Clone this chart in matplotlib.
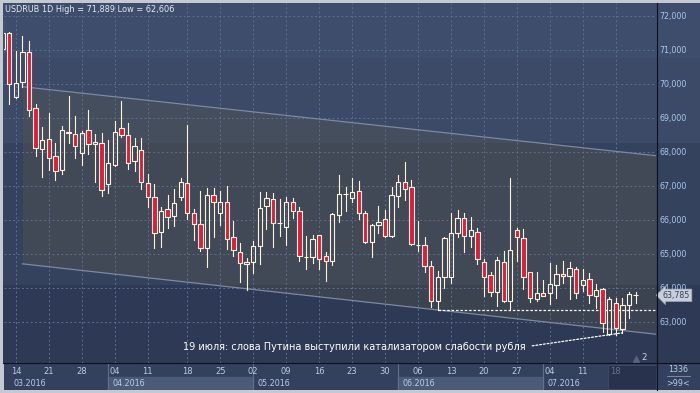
import numpy as np
import matplotlib.pyplot as plt
from matplotlib.patches import Rectangle
from matplotlib.lines import Line2D
import matplotlib.transforms as mtransforms

# USDRUB daily candles, 10.03.2016 - 21.07.2016 (price shown as 72,000 = 72.000)
opens = [71.02, 71.49, 69.63, 70.05, 70.93, 69.28, 68.08, 68.37, 67.87, 67.46,
         68.60, 68.52, 67.96, 68.64, 68.23, 68.26, 67.07, 67.61, 68.70, 68.49,
         67.73, 68.05, 67.08, 66.67, 65.66, 66.32, 66.11, 66.67, 67.08, 66.20,
         65.87, 65.17, 66.73, 66.22, 66.54, 65.49, 65.07, 64.70, 64.75, 65.23,
         66.40, 66.61, 65.92, 65.78, 66.52, 66.25, 64.90, 64.90, 65.55, 64.93,
         64.80, 66.14, 66.75, 66.64, 66.84, 66.20, 65.36, 65.84, 66.02, 65.52,
         66.72, 67.11, 66.96, 65.27, 65.26, 64.64, 63.62, 64.31, 64.31, 65.61,
         66.05, 65.52, 65.64, 64.75, 64.38, 63.87, 64.75, 63.62, 65.71, 65.46,
         64.46, 63.67, 63.84, 63.84, 64.09, 64.41, 64.34, 64.55, 64.09, 64.25,
         63.77, 63.97, 62.65, 63.56, 62.79, 63.50, 63.80]
highs = [71.889, 71.54, 70.97, 71.41, 71.25, 69.40, 68.74, 69.15, 68.26, 68.75,
         69.65, 69.06, 68.62, 69.24, 68.53, 68.56, 68.35, 68.91, 69.50, 68.85,
         68.40, 68.40, 67.34, 67.05, 66.37, 66.74, 66.91, 67.23, 68.79, 66.32,
         66.85, 66.93, 66.93, 66.86, 67.00, 65.97, 65.31, 64.87, 65.38, 66.83,
         66.81, 66.78, 66.62, 66.67, 66.64, 66.37, 65.53, 65.56, 65.56, 65.05,
         66.22, 67.32, 66.96, 67.23, 67.15, 66.26, 65.87, 66.41, 66.29, 66.96,
         67.32, 67.72, 67.17, 65.97, 65.50, 64.79, 64.50, 65.50, 66.20, 66.29,
         66.20, 66.08, 65.75, 64.84, 64.48, 64.91, 65.09, 67.23, 65.75, 65.74,
         64.46, 64.46, 64.24, 64.74, 64.68, 64.79, 64.75, 64.61, 64.56, 64.44,
         64.12, 64.00, 63.74, 63.71, 63.71, 63.88, 63.87]
lows = [70.95, 69.41, 69.60, 69.92, 69.07, 67.89, 67.25, 67.47, 67.19, 67.36,
        68.25, 67.81, 67.61, 67.93, 67.13, 66.72, 66.78, 67.58, 68.45, 67.50,
        67.45, 66.91, 66.39, 65.17, 65.22, 65.75, 65.83, 66.60, 66.03, 65.41,
        65.09, 64.63, 65.51, 65.85, 65.15, 64.95, 64.19, 63.94, 64.43, 64.72,
        65.73, 65.20, 65.54, 65.25, 66.05, 64.80, 64.55, 64.73, 64.57, 64.22,
        64.68, 65.95, 66.25, 66.54, 66.03, 65.31, 64.92, 65.63, 65.49, 65.49,
        66.39, 66.60, 65.25, 65.10, 64.48, 63.45, 63.35, 63.99, 64.14, 65.49,
        65.07, 65.22, 64.70, 63.75, 63.77, 63.48, 63.60, 63.35, 64.79, 63.97,
        63.60, 63.62, 63.75, 63.52, 63.72, 64.14, 63.68, 63.70, 63.92, 63.55,
        63.40, 62.71, 62.606, 62.63, 62.68, 63.12, 63.55]
closes = [71.50, 69.99, 70.02, 70.93, 69.23, 68.11, 68.34, 67.81, 67.45, 68.64,
          68.56, 68.17, 68.55, 68.23, 68.28, 66.87, 67.68, 68.58, 68.49, 67.67,
          68.17, 67.11, 66.67, 65.61, 66.25, 66.08, 66.49, 67.11, 66.20, 65.87,
          65.17, 66.73, 66.52, 66.54, 65.43, 65.11, 64.73, 64.75, 65.23, 66.34,
          66.66, 65.90, 65.90, 66.52, 66.26, 64.94, 64.92, 65.43, 64.84, 64.79,
          66.18, 66.75, 66.77, 66.81, 66.20, 65.36, 65.84, 65.93, 65.52, 66.73,
          67.11, 66.91, 65.28, 65.25, 64.66, 63.62, 64.31, 65.46, 65.61, 66.05,
          65.52, 65.70, 64.84, 64.33, 63.87, 64.81, 63.62, 65.11, 65.51, 64.33,
          63.70, 63.84, 63.76, 64.11, 64.40, 64.35, 64.58, 63.85, 64.24, 63.79,
          63.93, 62.97, 63.68, 62.82, 63.50, 63.82, 63.785]

day_pos = [2, 7, 12, 17, 22, 28, 33, 38, 43, 48, 53, 58, 63, 68, 73, 78, 83, 88, 93]
day_labels = ['14', '21', '28', '04', '11', '18', '25', '02', '09', '16',
              '23', '30', '06', '13', '20', '27', '04', '11', '18']
month_start = [0, 16, 38, 60, 82]
month_labels = ['03.2016', '04.2016', '05.2016', '06.2016', '07.2016']
price_ticks = [63, 64, 65, 66, 67, 68, 69, 70, 71, 72]

# trend channel
chan_x = [3.0, 99.1]
chan_top = [69.92, 67.89]
chan_bot = [64.71, 62.64]

note = "19 июля: слова Путина выступили катализатором слабости рубля"
note_day = 94


def fmt(v):
    return f"{v:.3f}".replace('.', ',')


W, H = 700, 393


def rect(x0, y0, x1, y1):
    return [x0 / W, 1 - y1 / H, (x1 - x0) / W, (y1 - y0) / H]


fig = plt.figure(figsize=(7, 3.93), dpi=100, facecolor='#c4c9d2')

# banded background of chart + right scale
bg = fig.add_axes(rect(3, 3, 700, 363))
bands = [(3, 58, '#3f4d6c'), (58, 143, '#3c4967'), (143, 285, '#35425e'), (285, 363, '#2d3955')]
img = np.zeros((360, 1, 3))
for y0, y1, col in bands:
    img[y0 - 3:y1 - 3, 0, :] = plt.matplotlib.colors.to_rgb(col)
bg.imshow(img, aspect='auto', extent=[0, 1, 0, 1], interpolation='nearest')
bg.set_axis_off()

ax = fig.add_axes(rect(3.5, 3, 656, 363))
ax.patch.set_alpha(0)
xmax = 99.1
ax.set_xlim(0.12, xmax)
ax.set_ylim(61.794, 72.382)

ax.fill_between(chan_x, chan_bot, chan_top, color=(0.37, 0.37, 0.25), alpha=0.28, lw=0, zorder=1)
ax.plot(chan_x, chan_top, color='#7d89a0', lw=0.9, zorder=2)
ax.plot(chan_x, chan_bot, color='#7d89a0', lw=0.9, zorder=2)

ax.set_xticks(day_pos)
ax.set_yticks(price_ticks)
ax.grid(True, color='#5d6d8d', linestyle=(0, (2, 2.5)), lw=0.7, zorder=0)
ax.tick_params(axis='x', length=0, labelbottom=False)
ax.yaxis.tick_right()
ax.set_yticklabels([fmt(p) for p in price_ticks])
ax.tick_params(axis='y', length=0, pad=2.5, labelsize=5.7, labelcolor='#a9c7ee')
for s in ax.spines.values():
    s.set_visible(False)

edge = '#fff3e0'
red = '#e11b3b'
w = 0.66
for i, (o, h, l, c) in enumerate(zip(opens, highs, lows, closes)):
    top, bot = max(o, c), min(o, c)
    ax.plot([i, i], [top, h], color=edge, lw=0.8, zorder=4)
    ax.plot([i, i], [l, bot], color=edge, lw=0.8, zorder=4)
    ax.add_patch(Rectangle((i - w / 2, bot), w, max(top - bot, 0.004),
                           facecolor=red if c < o else 'none', edgecolor=edge,
                           lw=0.8, zorder=5))

# support level from the 10 June low
ax.hlines(lows[66], 66, xmax, colors='white', linestyles=(0, (2, 1.5)), lw=0.9, zorder=3)

ax.annotate(note, xy=(note_day, lows[note_day]), xytext=(27.3, 62.27),
            fontsize=7, color='white', ha='left', va='center', zorder=6,
            arrowprops=dict(arrowstyle='-', color='white', lw=0.9,
                            linestyle=(0, (1.5, 1.5)), relpos=(1, 0.5),
                            shrinkA=3, shrinkB=0))

# last price marker on the scale
tr = mtransforms.blended_transform_factory(ax.transAxes, ax.transData)
ax.text(1.0105, closes[-1], fmt(closes[-1]), transform=tr, fontsize=5.7,
        color='#34405e', ha='left', va='center', clip_on=False, zorder=10,
        bbox=dict(boxstyle='larrow,pad=0.22', fc='#c9ced8', ec='#9aa4b5', lw=0.5))

fig.text(5 / W, 1 - 9 / H, f"USDRUB 1D High = {fmt(max(highs))} Low = {fmt(min(lows))}",
         fontsize=5.9, color='#e6eaf1', ha='left', va='center')

# date scale
dax = fig.add_axes(rect(3.5, 363, 656, 390))
dax.set_xlim(0.12, xmax)
dax.set_ylim(27, 0)
dax.set_axis_off()
dax.add_patch(Rectangle((0, 0), xmax, 27, color='#33405e', zorder=0))
ends = month_start[1:] + [xmax]
for k, (m0, m1, lab) in enumerate(zip(month_start, ends, month_labels)):
    if k % 2 == 1:
        dax.add_patch(Rectangle((m0, 14), m1 - m0, 13, color='#4b5a79', zorder=1))
    if k > 0:
        dax.plot([m0, m0], [0, 27], color='#5f6f90', lw=0.8, zorder=2)
    dax.text(max(m0 + 0.65, 1.65), 20, lab, fontsize=5.8, color='#b6cdea',
             ha='left', va='center', zorder=3)
dax.add_patch(Rectangle((91.8, 1.5), xmax - 91.8, 24.5, fc='#28324c', ec='#3e4b68',
                        lw=0.6, zorder=4))
for k, (p, lab) in enumerate(zip(day_pos, day_labels)):
    dax.text(p, 8.5, lab, fontsize=6, ha='center', va='center', zorder=5,
             color='#66738f' if k == len(day_pos) - 1 else '#b6cdea')

# bottom-right info cell
rax = fig.add_axes(rect(656, 363, 700, 390))
rax.set_xlim(0, 44)
rax.set_ylim(27, 0)
rax.set_axis_off()
rax.add_patch(Rectangle((0, 0), 44, 27, color='#33405e', zorder=0))
rax.text(22, 7, '1336', fontsize=5.8, color='#b6cdea', ha='center', va='center')
rax.plot([11, 34], [13, 13], color='#8796b2', lw=0.6)
rax.text(22, 20, '>99<', fontsize=5.8, color='#b6cdea', ha='center', va='center')

fig.text(644 / W, 1 - 357 / H, '2', fontsize=6.2, color='#c9d3e6', ha='center', va='center')
fig.add_artist(Line2D([636 / W], [1 - 359 / H], marker='^', ms=4, color='#56647f', lw=0))

# separators
fig.add_artist(Line2D([656.5 / W] * 2, [1 - 3 / H, 1 - 390 / H], color='#0c111d', lw=0.8))
fig.add_artist(Line2D([3 / W, 1], [1 - 363 / H] * 2, color='#0c111d', lw=0.8))

fig.savefig('out.png', dpi=100, facecolor=fig.get_facecolor())
